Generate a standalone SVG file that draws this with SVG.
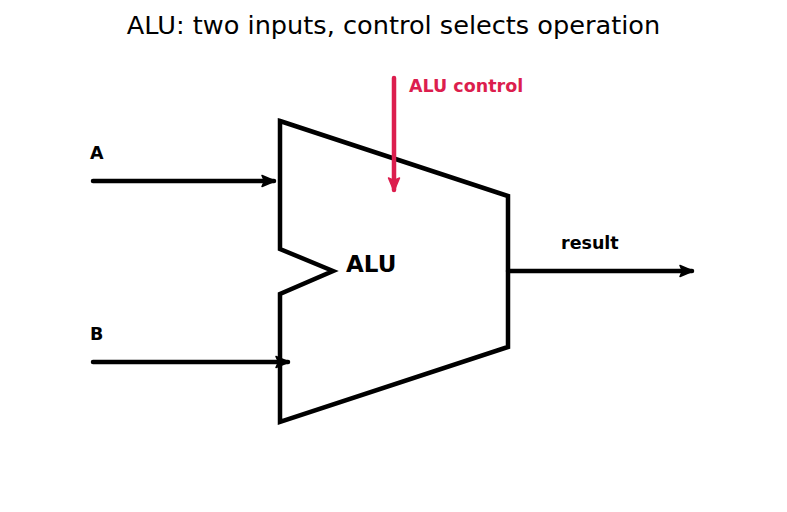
<svg xmlns="http://www.w3.org/2000/svg" width="787" height="512" viewBox="0 0 787 512">
<style>
.t{font-family:"DejaVu Sans",sans-serif;}
.lbl{font-family:"DejaVu Sans",sans-serif;font-weight:bold;font-size:17.5px;}
.ln{fill:none;stroke-width:4.5;stroke-linecap:round;}
</style>
<defs>
<marker id="ah" markerWidth="16" markerHeight="14" refX="13" refY="7" orient="auto" markerUnits="userSpaceOnUse">
<path d="M1,1.5 L14,7 L1,12.5 L3.5,7 Z" fill="#000" stroke="#000" stroke-width="1.5" stroke-linejoin="round"/>
</marker>
<marker id="ahr" markerWidth="16" markerHeight="14" refX="13" refY="7" orient="auto" markerUnits="userSpaceOnUse">
<path d="M1,1.5 L14,7 L1,12.5 L3.5,7 Z" fill="#DC1E4E" stroke="#DC1E4E" stroke-width="1.5" stroke-linejoin="round"/>
</marker>
</defs>
<rect width="787" height="512" fill="#fff"/>
<text class="t" x="393.5" y="34" font-size="25.6" text-anchor="middle">ALU: two inputs, control selects operation</text>
<g id="alu">
<polygon points="280,121 508,196 508,347 280,422 280,294 333,271 280,249" fill="none" stroke="#000" stroke-width="4.5" stroke-linejoin="miter"/>
<text class="t" x="346" y="272" font-size="23" font-weight="bold">ALU</text>
</g>
<g id="connectors">
<line class="ln" x1="93" y1="181" x2="274" y2="181" stroke="#000" marker-end="url(#ah)"/>
<line class="ln" x1="93" y1="362" x2="288" y2="362" stroke="#000" marker-end="url(#ah)"/>
<line class="ln" x1="508" y1="271" x2="692" y2="271" stroke="#000" marker-end="url(#ah)"/>
<line class="ln" x1="394" y1="78" x2="394" y2="190" stroke="#DC1E4E" marker-end="url(#ahr)"/>
</g>
<g id="labels">
<text class="lbl" x="90" y="159">A</text>
<text class="lbl" x="90" y="340">B</text>
<text class="lbl" x="561" y="249">result</text>
<text class="lbl" x="409" y="92" fill="#DC1E4E">ALU control</text>
</g>
</svg>
